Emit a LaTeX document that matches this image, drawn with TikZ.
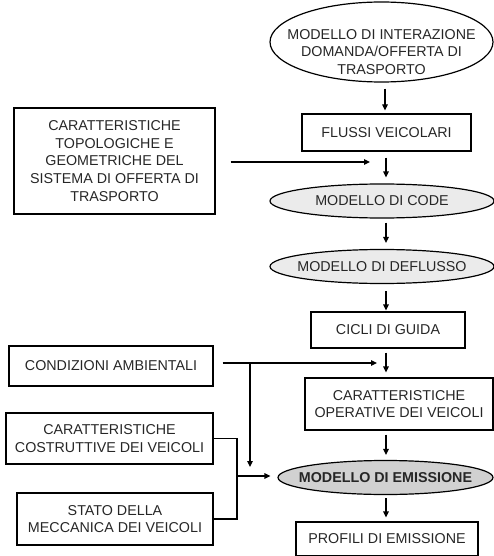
\documentclass[tikz,border=0pt]{standalone}
\usepackage{fontspec}
\setmainfont{Liberation Sans}
\usetikzlibrary{shapes.geometric,arrows.meta}
\begin{document}
\begin{tikzpicture}[x=1pt,y=-1pt,
  every node/.style={font=\fontsize{14.3}{17.8}\selectfont, align=center, inner sep=0pt, text=black!85},
  box/.style={draw, line width=1.2pt, rectangle},
  ell/.style={draw, line width=1.2pt, ellipse},
  arr/.style={line width=1.2pt, -{Triangle[length=6pt,width=5.5pt]}},
  ln/.style={line width=1.2pt}]
\useasboundingbox (0,0) rectangle (494,556);

% right column
\node[ell, minimum width=223pt, minimum height=80pt] (mi) at (381.5,42) {};
\node (mit) at (381.5,52) {MODELLO DI INTERAZIONE\\DOMANDA/OFFERTA DI\\TRASPORTO};
\node[box, minimum width=169pt, minimum height=37pt] (fl) at (386.5,132.5) {FLUSSI VEICOLARI};
\node[ell, fill=black!8, minimum width=224pt, minimum height=34pt] (code) at (382,201) {};
\node (codet) at (code.center) {MODELLO DI CODE};
\node[ell, fill=black!8, minimum width=224pt, minimum height=34pt] (defl) at (382,266.5) {};
\node (deflt) at (defl.center) {MODELLO DI DEFLUSSO};
\node[box, minimum width=154pt, minimum height=36pt] (cicli) at (388,330) {CICLI DI GUIDA};
\node[box, minimum width=188pt, minimum height=52pt] (oper) at (399,404) {CARATTERISTICHE\\OPERATIVE DEI VEICOLI};
\node[ell, fill=black!18, minimum width=215pt, minimum height=34pt] (em) at (385.5,477.5) {};
\node[font=\fontsize{14.3}{17.8}\selectfont\bfseries] (emt) at (em.center) {MODELLO DI EMISSIONE};
\node[box, minimum width=182pt, minimum height=34pt] (prof) at (387,539) {PROFILI DI EMISSIONE};

% left column
\node[box, minimum width=201pt, minimum height=106pt] (topo) at (114.5,161)
  {CARATTERISTICHE\\TOPOLOGICHE E\\GEOMETRICHE DEL\\SISTEMA DI OFFERTA DI\\TRASPORTO};
\node[box, minimum width=204pt, minimum height=40pt] (cond) at (111,366) {CONDIZIONI AMBIENTALI};
\node[box, minimum width=207pt, minimum height=51pt] (cost) at (109.5,438.5) {CARATTERISTICHE\\COSTRUTTIVE DEI VEICOLI};
\node[box, minimum width=196pt, minimum height=52pt] (stato) at (115,519) {STATO DELLA\\MECCANICA DEI VEICOLI};

% free ends
\coordinate (h1end) at (370,162);
\coordinate (h2end) at (377,363);
\coordinate (j1) at (250,363);
\coordinate (j1end) at (250,467);
\coordinate (br) at (237,476);

% vertical arrows
\draw[arr, shorten <=6pt, shorten >=3pt] (mi.south -| 385,0) -- (fl.north -| 385,0);
\draw[arr, shorten <=6pt, shorten >=6pt] (fl.south -| 386,0) -- (code.north -| 386,0);
\draw[arr, shorten <=4pt, shorten >=6pt] (code.south -| 386,0) -- (defl.north -| 386,0);
\draw[arr, shorten <=7pt, shorten >=1pt] (defl.south -| 386,0) -- (cicli.north -| 386,0);
\draw[arr, shorten <=4pt, shorten >=5pt] (cicli.south -| 386,0) -- (oper.north -| 386,0);
\draw[arr, shorten <=4pt, shorten >=5pt] (oper.south -| 386,0) -- (em.north -| 386,0);
\draw[arr, shorten <=3pt, shorten >=4pt] (em.south -| 386,0) -- (prof.north -| 386,0);

% horizontal arrows
\draw[arr, shorten <=15pt] (topo.east |- h1end) -- (h1end);
\draw[arr, shorten <=9pt] (cond.east |- h2end) -- (h2end);
\draw[arr] (j1) -- (j1end);
\draw[ln] (cost.east) -- (cost.east -| br) -- (stato.east -| br) -- (stato.east);
\draw[arr, shorten >=7pt] (br) -- (em.west |- br);
\end{tikzpicture}
\end{document}
